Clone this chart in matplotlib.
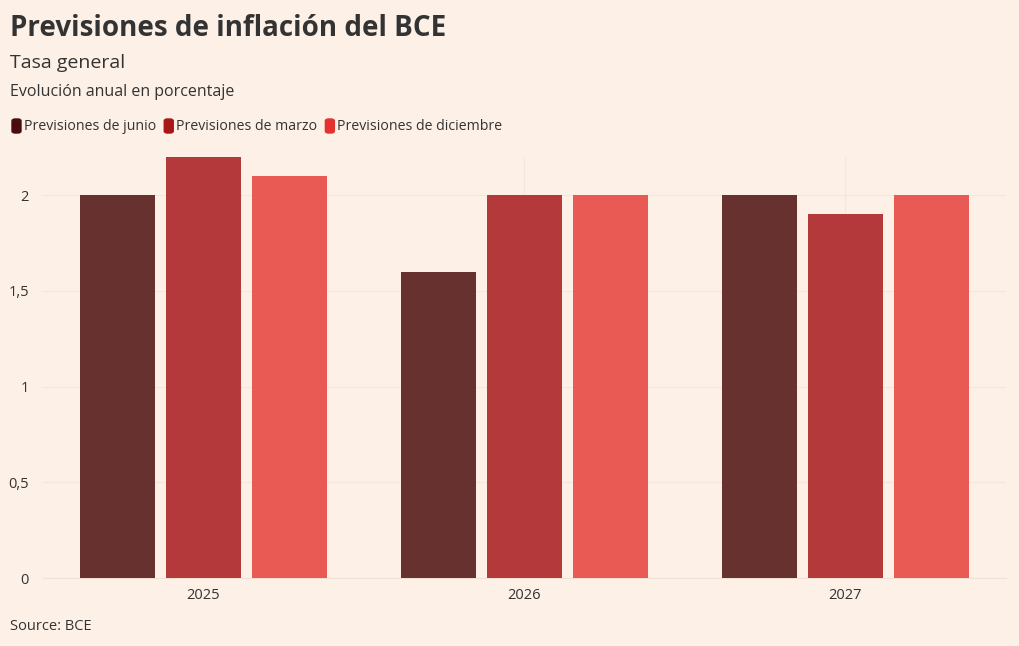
import numpy as np
import matplotlib
matplotlib.use("Agg")
from matplotlib import pyplot as plt
from matplotlib.patches import FancyBboxPatch
from matplotlib.ticker import FuncFormatter

years = ["2025", "2026", "2027"]
series_names = ["Previsiones de junio", "Previsiones de marzo", "Previsiones de diciembre"]
junio = [2.0, 1.6, 2.0]
marzo = [2.2, 2.0, 1.9]
diciembre = [2.1, 2.0, 2.0]

bar_colors = ["#67312F", "#B3393B", "#E85A53"]
legend_colors = ["#4A0C0C", "#A81717", "#E3332F"]
bg = "#FDF0E6"
text_color = "#333333"

plt.rcParams["font.family"] = ["Open Sans", "DejaVu Sans"]

fig = plt.figure(figsize=(10.2, 6.46), dpi=100, facecolor=bg)
W, H = 1020, 646
ax = fig.add_axes([43 / W, 1 - 578 / H, (1006 - 43) / W, (578 - 157) / H])
ax.set_facecolor(bg)

x = np.arange(len(years))
width = 0.234
step = 0.268
for i, vals in enumerate([junio, marzo, diciembre]):
    ax.bar(x + (i - 1) * step, vals, width=width, color=bar_colors[i], zorder=3)

ax.set_xlim(-0.5, 2.5)
ax.set_ylim(0, 2.2)
ax.set_yticks([0, 0.5, 1, 1.5, 2])
ax.yaxis.set_major_formatter(FuncFormatter(lambda v, p: f"{v:g}".replace(".", ",")))
ax.set_xticks(x)
ax.set_xticklabels(years)
ax.tick_params(length=0, labelsize=10.5, labelcolor=text_color)
ax.tick_params(axis="y", pad=10)
ax.tick_params(axis="x", pad=7)
ax.grid(True, color="#F5E6DC", linewidth=0.8, zorder=0)
for s in ["top", "right", "left"]:
    ax.spines[s].set_visible(False)
ax.spines["bottom"].set_color("#F2E0D4")

# titles
fig.text(10 / W, 1 - 28 / H, "Previsiones de inflación del BCE", fontsize=20, fontweight="bold",
         color=text_color, va="center")
fig.text(10 / W, 1 - 63 / H, "Tasa general", fontsize=14, color=text_color, va="center")
fig.text(10 / W, 1 - 92 / H, "Evolución anual en porcentaje", fontsize=11.5, color=text_color, va="center")

# legend
lx = 12
for name, col in zip(series_names, legend_colors):
    fig.patches.append(FancyBboxPatch((lx / W, 1 - 133 / H), 9 / W, 14 / H,
                                      boxstyle="round,pad=0,rounding_size=0.003",
                                      transform=fig.transFigure, color=col))
    t = fig.text((lx + 12) / W, 1 - 126 / H, name, fontsize=10.2, color=text_color, va="center")
    fig.canvas.draw()
    bb = t.get_window_extent()
    lx = bb.x1 + 8

fig.text(10 / W, 1 - 626 / H, "Source: BCE", fontsize=10.5, color=text_color, va="center")

fig.savefig("out.png", dpi=100, facecolor=bg)
